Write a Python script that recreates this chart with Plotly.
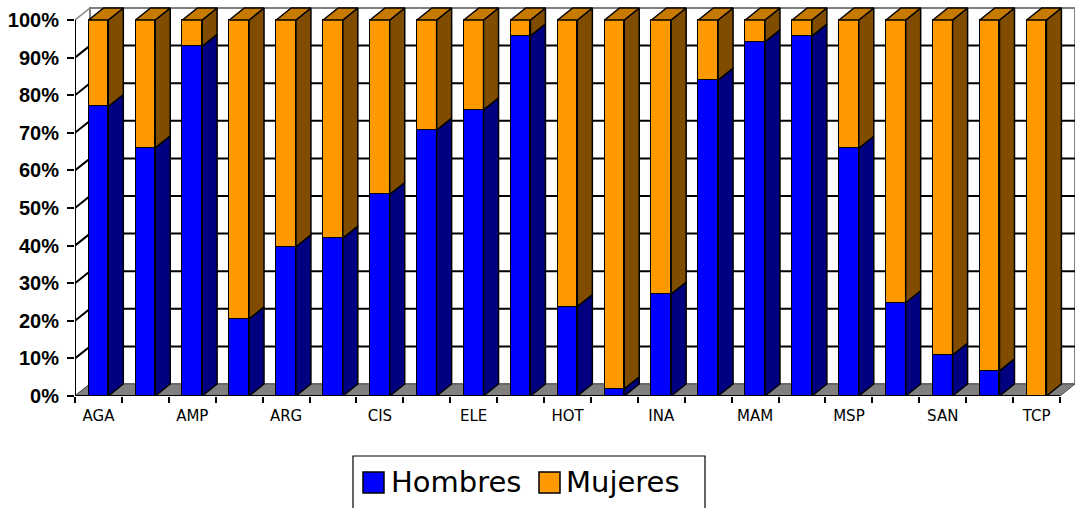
import plotly.graph_objects as go

# ---- data ----
tick_labels = ["AGA", "AMP", "ARG", "CIS", "ELE", "HOT", "INA", "MAM", "MSP", "SAN", "TCP"]
hombres = [77, 66, 93, 20.5, 39.7, 42, 53.6, 70.7, 76.1, 95.8, 23.8,
           1.9, 27.1, 84, 94.2, 95.7, 65.9, 24.8, 10.9, 6.7, 0]
mujeres = [23, 34, 7, 79.5, 60.3, 58, 46.4, 29.3, 23.9, 4.2, 76.2,
           98.1, 72.9, 16, 5.8, 4.3, 34.1, 75.2, 89.1, 93.3, 100]
series_names = ["Hombres", "Mujeres"]
y_ticks = [0, 10, 20, 30, 40, 50, 60, 70, 80, 90, 100]

# ---- style ----
FRONT = {"Hombres": "#0000FF", "Mujeres": "#FF9900"}
SIDE = {"Hombres": "#000080", "Mujeres": "#7F4C00"}
TOP = {"Hombres": "#0000C0", "Mujeres": "#C67A00"}
W = 0.42          # bar width (category units)
DX = 0.32         # depth offset in x (units)
DY = 3.19         # depth offset in y (percent units)
n = len(hombres)
xs = list(range(n))
X0, X1 = -0.5, n - 0.5

fig = go.Figure()

# front faces
for name, vals in zip(series_names, [hombres, mujeres]):
    fig.add_trace(go.Bar(
        x=xs, y=vals, name=name, width=W,
        marker=dict(color=FRONT[name], line=dict(color="black", width=1.5)),
        hoverinfo="skip", showlegend=False))

# side faces computed from the data
bases = [0.0] * n
for name, vals in zip(series_names, [hombres, mujeres]):
    px, py = [], []
    for i, v in enumerate(vals):
        if v <= 0:
            continue
        r = i + W / 2
        y0, y1 = bases[i], bases[i] + v
        px += [r, r + DX, r + DX, r, r, None]
        py += [y0, y0 + DY, y1 + DY, y1, y0, None]
    fig.add_trace(go.Scatter(x=px, y=py, mode="lines", fill="toself",
                             fillcolor=SIDE[name], line=dict(color="black", width=1.5),
                             hoverinfo="skip", showlegend=False))
    bases = [b + v for b, v in zip(bases, vals)]

# top faces
for name, vals in zip(series_names, [hombres, mujeres]):
    pxs, pys = [], []
    for i in range(n):
        top_series = "Mujeres" if mujeres[i] > 0 else "Hombres"
        if top_series != name:
            continue
        l, r = i - W / 2, i + W / 2
        t = hombres[i] + mujeres[i]
        pxs += [l, r, r + DX, l + DX, l, None]
        pys += [t, t, t + DY, t + DY, t, None]
    if pxs:
        fig.add_trace(go.Scatter(x=pxs, y=pys, mode="lines", fill="toself",
                                 fillcolor=TOP[name], line=dict(color="black", width=1.5),
                                 hoverinfo="skip", showlegend=False))

# ---- walls, floor, grid ----
shapes = []
shapes.append(dict(type="path", xref="x", yref="y", layer="below",
                   path=f"M{X0},0 L{X0+DX},{DY} L{X0+DX},{100+DY} L{X0},100 Z",
                   fillcolor="white", line=dict(color="#808080", width=1.5)))
shapes.append(dict(type="rect", xref="x", yref="y", layer="below",
                   x0=X0 + DX, x1=X1 + DX, y0=DY, y1=100 + DY,
                   fillcolor="white", line=dict(color="#808080", width=2)))
for v in y_ticks[1:-1]:
    shapes.append(dict(type="path", xref="x", yref="y", layer="below",
                       path=f"M{X0},{v} L{X0+DX},{v+DY} L{X1+DX},{v+DY}",
                       line=dict(color="black", width=2)))
shapes.append(dict(type="path", xref="x", yref="y", layer="below",
                   path=f"M{X0},0 L{X1},0 L{X1+DX},{DY} L{X0+DX},{DY} Z",
                   fillcolor="#808080", line=dict(color="#505050", width=1)))
shapes.append(dict(type="line", xref="x", yref="y", x0=X0, x1=X1, y0=0, y1=0,
                   line=dict(color="black", width=2)))
shapes.append(dict(type="line", xref="x", yref="y", x0=X0, x1=X0, y0=0, y1=100,
                   line=dict(color="black", width=2)))

# ---- manual legend (paper coords) ----
def pxx(p):
    return (p - 75) / 1000.0

def pyy(p):
    return (396 - p) / 390.0

shapes.append(dict(type="rect", xref="paper", yref="paper",
                   x0=pxx(353), x1=pxx(705), y0=pyy(512), y1=pyy(456),
                   line=dict(color="black", width=1.2), fillcolor="white"))
shapes.append(dict(type="rect", xref="paper", yref="paper",
                   x0=pxx(363), x1=pxx(384), y0=pyy(493), y1=pyy(472),
                   line=dict(color="black", width=1.5), fillcolor=FRONT["Hombres"]))
shapes.append(dict(type="rect", xref="paper", yref="paper",
                   x0=pxx(539), x1=pxx(560), y0=pyy(493), y1=pyy(472),
                   line=dict(color="black", width=1.5), fillcolor=FRONT["Mujeres"]))
annotations = [
    dict(xref="paper", yref="paper", x=pxx(389), y=pyy(482), text=series_names[0],
         showarrow=False, xanchor="left", yanchor="middle",
         font=dict(family="DejaVu Sans", size=29, color="black")),
    dict(xref="paper", yref="paper", x=pxx(564), y=pyy(482), text=series_names[1],
         showarrow=False, xanchor="left", yanchor="middle",
         font=dict(family="DejaVu Sans", size=29, color="black")),
]

fig.update_layout(
    width=1075, height=508,
    margin=dict(l=75, r=0, t=6, b=112, autoexpand=False),
    paper_bgcolor="white", plot_bgcolor="white",
    barmode="stack", bargap=0,
    showlegend=False,
    shapes=shapes, annotations=annotations,
    xaxis=dict(range=[X0, X1 + DX], showgrid=False, zeroline=False, showline=False,
               automargin=False,
               tickmode="array", tickvals=xs[::2], ticktext=tick_labels,
               ticks="", ticklen=0,
               tickfont=dict(family="DejaVu Sans", size=15, color="black"),
               ticklabelstandoff=9,
               minor=dict(tickmode="linear", tick0=0.5, dtick=1, ticks="outside",
                          ticklen=6, tickwidth=2, tickcolor="black", showgrid=False)),
    yaxis=dict(range=[0, 390 / 3.76], showgrid=False, zeroline=False, showline=False,
               automargin=False,
               tickmode="array", tickvals=y_ticks, ticktext=[f"{v}%" for v in y_ticks],
               ticks="outside", ticklen=7, tickwidth=2, tickcolor="black",
               tickfont=dict(family="Liberation Sans", size=20, color="black", weight="bold"),
               ticklabelstandoff=4),
)

fig.write_html("out.html", config={"displayModeBar": False},
               post_script="document.body.style.margin='0';")
